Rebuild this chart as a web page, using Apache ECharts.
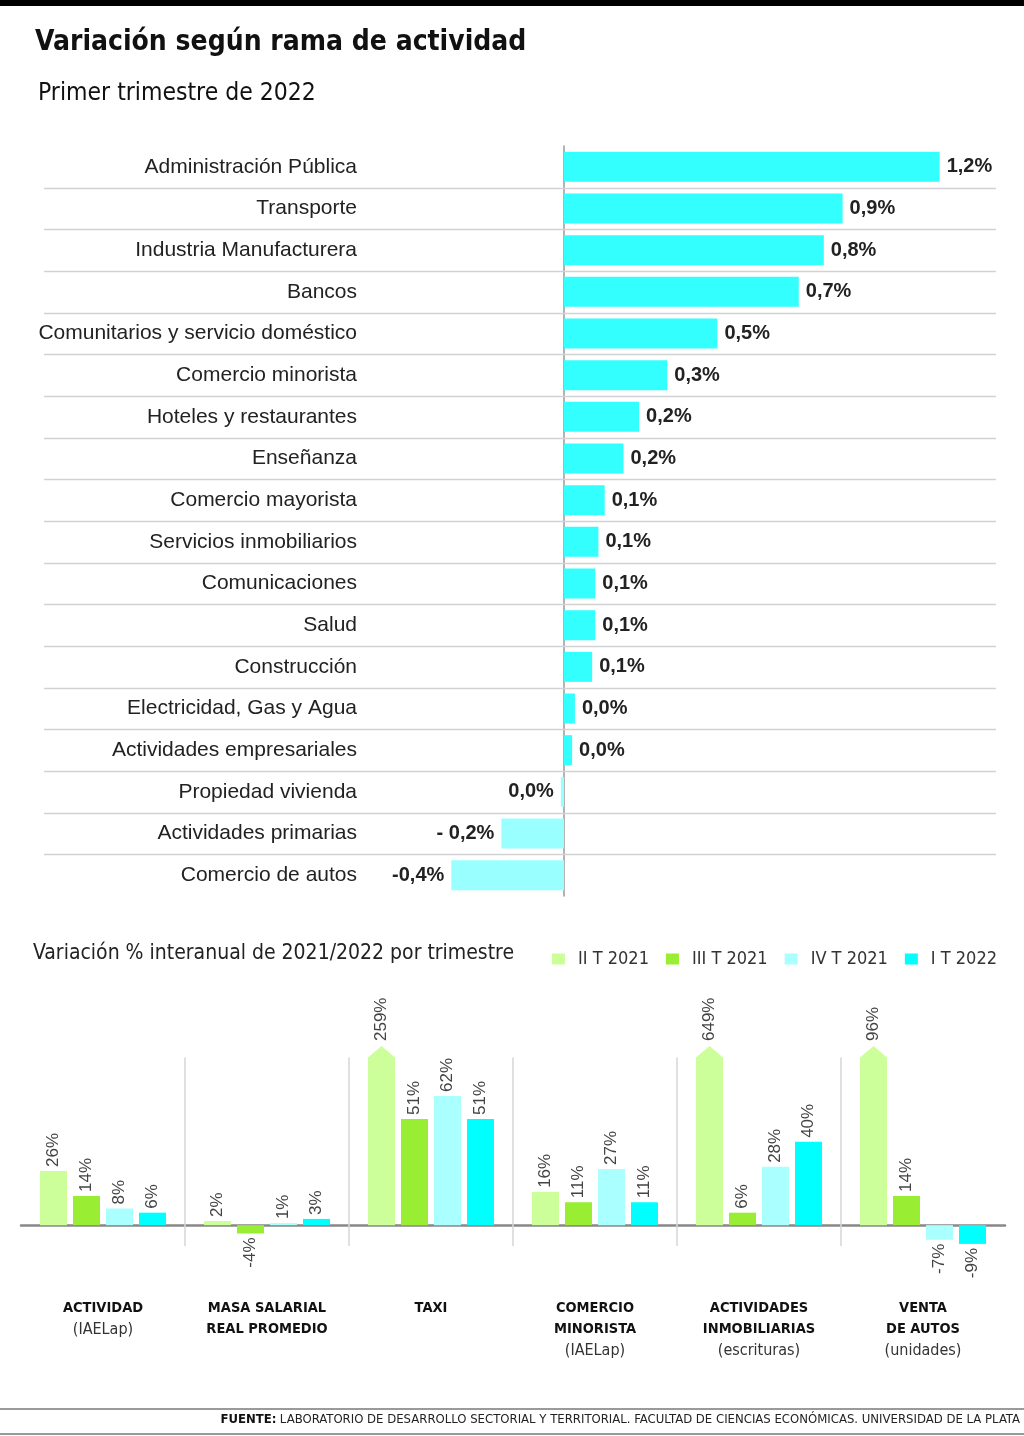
<!DOCTYPE html>
<html><head><meta charset="utf-8">
<script src="https://cdn.jsdelivr.net/npm/echarts@6/dist/echarts.min.js"></script>
<style>html,body{margin:0;padding:0;background:#fff}#c{width:1024px;height:1436px}</style>
</head><body><div id="c"></div><script>
// ---- Data: top chart (variación por rama, I T 2022) ----
const branchNames = ['Administración Pública','Transporte','Industria Manufacturera','Bancos','Comunitarios y servicio doméstico','Comercio minorista','Hoteles y restaurantes','Enseñanza','Comercio mayorista','Servicios inmobiliarios','Comunicaciones','Salud','Construcción','Electricidad, Gas y Agua','Actividades empresariales','Propiedad vivienda','Actividades primarias','Comercio de autos'];
const branchValues = [1.20,0.89,0.83,0.75,0.49,0.33,0.24,0.19,0.13,0.11,0.10,0.10,0.09,0.035,0.026,-0.01,-0.20,-0.36];
const branchLabels = ['1,2%','0,9%','0,8%','0,7%','0,5%','0,3%','0,2%','0,2%','0,1%','0,1%','0,1%','0,1%','0,1%','0,0%','0,0%','0,0%','- 0,2%','-0,4%'];

// ---- Data: bottom chart (variación % interanual por trimestre) ----
const groupNames = ['ACTIVIDAD\n(IAELap)','MASA SALARIAL\nREAL PROMEDIO','TAXI','COMERCIO\nMINORISTA\n(IAELap)','ACTIVIDADES\nINMOBILIARIAS\n(escrituras)','VENTA\nDE AUTOS\n(unidades)'];
const quarterNames = ['II T 2021','III T 2021','IV T 2021','I T 2022'];
const q2_2021 = [26,2,259,16,649,96];
const q3_2021 = [14,-4,51,11,6,14];
const q4_2021 = [8,1,62,27,28,-7];
const q1_2022 = [6,3,51,11,40,-9];
const quarterValues = [q2_2021,q3_2021,q4_2021,q1_2022];

const quarterColors = ['#CCFF99','#99EE33','#AAFFFF','#00FFFF'];
const NARROW = '"Liberation Sans Narrow","DejaVu Sans Condensed","Liberation Sans",sans-serif';
const SANS = '"Liberation Sans",Arial,sans-serif';
const CAP_TIP = 86, CAP_RECT = 80.5, AX_MIN = -10;

function makeRender(k){
  return function(params, api){
    const idx = api.value(0), v = api.value(1);
    const base = api.coord([idx, 0]);
    const band = api.size([1,0])[0];
    const barW = 27, gap = 6;
    const left = base[0] - (4*barW + 3*gap)/2 + k*(barW + gap);
    const cx = left + barW/2;
    const col = quarterColors[k];
    const children = [];
    if (k === 0 && idx > 0) {
      const t = api.coord([idx, CAP_RECT])[1], b = api.coord([idx, AX_MIN])[1];
      const sx = Math.round(base[0] - band/2);
      children.push({type:'line', shape:{x1:sx, y1:t, x2:sx, y2:b}, style:{stroke:'#d6d6d6', lineWidth:1.5}});
    }
    let ly, align;
    if (v > CAP_TIP) {
      const r = api.coord([idx, CAP_RECT])[1], tip = api.coord([idx, CAP_TIP])[1];
      children.push({type:'polygon', shape:{points:[[left, base[1]],[left, r],[cx, tip],[left+barW, r],[left+barW, base[1]]]}, style:{fill:col}});
      ly = tip - 5; align = 'left';
    } else {
      const t = api.coord([idx, v])[1];
      children.push({type:'rect', shape:{x:left, y:Math.min(t, base[1]), width:barW, height:Math.abs(base[1]-t)}, style:{fill:col}});
      if (v >= 0) { ly = t - 4; align = 'left'; } else { ly = t + 4; align = 'right'; }
    }
    children.push({type:'text', x:cx, y:ly, rotation:Math.PI/2,
      style:{text: v + '%', fill:'#444', font:'17px ' + SANS, align:align, verticalAlign:'middle'}});
    return {type:'group', children:children};
  };
}

const chart = echarts.init(document.getElementById('c'), null, {renderer:'canvas'});
const option = {
  backgroundColor:'#ffffff',
  animation:false,
  title:[
    {text:'Variación según rama de actividad', left:30, top:24,
     textStyle:{fontFamily:NARROW, fontWeight:'bold', fontSize:28, color:'#111'}},
    {text:'Primer trimestre de 2022', left:33, top:76,
     textStyle:{fontFamily:NARROW, fontWeight:'normal', fontSize:24.5, color:'#111'}},
    {text:'Variación % interanual de 2021/2022 por trimestre', left:28, top:938,
     textStyle:{fontFamily:NARROW, fontWeight:'normal', fontSize:21, color:'#222'}}
  ],
  legend:{
    data:quarterNames, top:945, right:22, icon:'rect', itemWidth:13, itemHeight:11, itemGap:17,
    textStyle:{fontFamily:NARROW, fontSize:18, color:'#333', padding:[0,0,0,8]}
  },
  grid:[
    {left:44, right:28, top:146, height:750, outerBoundsMode:'none', containLabel:false},
    {left:21, right:19, top:1046, height:200, outerBoundsMode:'none', containLabel:false}
  ],
  xAxis:[
    {gridIndex:0, type:'value', min:-1.661, max:1.38, show:false},
    {gridIndex:1, type:'category', data:groupNames,
     axisLine:{show:true, onZero:true, lineStyle:{color:'#888', width:2.5}},
     axisTick:{show:false}, splitLine:{show:false},
     axisLabel:{interval:0, margin:52,
       formatter:function(val){ return val.split('\n').map(s => s.charAt(0)==='(' ? '{n|'+s+'}' : '{b|'+s+'}').join('\n'); },
       rich:{
         b:{fontFamily:NARROW, fontWeight:'bold', fontSize:14.5, color:'#111', lineHeight:21},
         n:{fontFamily:NARROW, fontWeight:'normal', fontSize:16, color:'#333', lineHeight:21}
       }}
    }
  ],
  yAxis:[
    {gridIndex:0, type:'category', inverse:true, data:branchNames,
     axisLine:{show:true, onZero:true, lineStyle:{color:'#9a9a9a', width:1.5}},
     axisTick:{show:false}, splitLine:{show:false},
     axisLabel:{margin:-313, align:'right', fontFamily:SANS, fontSize:21, color:'#222'}},
    {gridIndex:1, type:'value', min:AX_MIN, max:CAP_TIP, show:false}
  ],
  series:[
    {type:'custom', xAxisIndex:0, yAxisIndex:0, silent:true, z:1,
     data: branchNames.slice(1).map((n,i) => [0, i+1]),
     renderItem:function(params, api){
       const c = api.coord([0, api.value(1)]);
       const h = api.size([0,1])[1];
       const y = Math.round(c[1] - h/2) + 0.5;
       const cs = params.coordSys;
       return {type:'line', shape:{x1:cs.x, y1:y, x2:cs.x+cs.width, y2:y}, style:{stroke:'#d2d2d2', lineWidth:1.5}};
     }},
    {type:'bar', xAxisIndex:0, yAxisIndex:0, barWidth:30, silent:true, z:3,
     data: branchValues.map(v => ({value:v, itemStyle:{color: v < 0 ? '#99FFFF' : '#33FFFF'}, label:{position: v < 0 ? 'left' : 'right'}})),
     label:{show:true, distance:7, fontFamily:SANS, fontSize:20, fontWeight:'bold', color:'#222',
       formatter:function(p){ return branchLabels[p.dataIndex]; }}
    }
  ].concat(quarterNames.map((name, k) => ({
    type:'custom', name:name, xAxisIndex:1, yAxisIndex:1, silent:true,
    itemStyle:{color:quarterColors[k]},
    encode:{x:0, y:1},
    data: quarterValues[k].map((v, i) => [i, v]),
    renderItem: makeRender(k)
  }))),
  graphic:[
    {type:'rect', left:0, top:0, shape:{width:1024, height:6}, style:{fill:'#000'}},
    {type:'rect', left:0, top:1408, shape:{width:1024, height:2}, style:{fill:'#9a9a9a'}},
    {type:'rect', left:0, top:1433, shape:{width:1024, height:2}, style:{fill:'#9a9a9a'}},
    {type:'text', right:4, top:1413,
     style:{text:'{b|FUENTE:} {n|LABORATORIO DE DESARROLLO SECTORIAL Y TERRITORIAL. FACULTAD DE CIENCIAS ECONÓMICAS. UNIVERSIDAD DE LA PLATA}',
       rich:{b:{fontFamily:NARROW, fontWeight:'bold', fontSize:13, fill:'#111'}, n:{fontFamily:NARROW, fontSize:13, fill:'#222'}}}}
  ]
};
chart.setOption(option);
</script></body></html>
